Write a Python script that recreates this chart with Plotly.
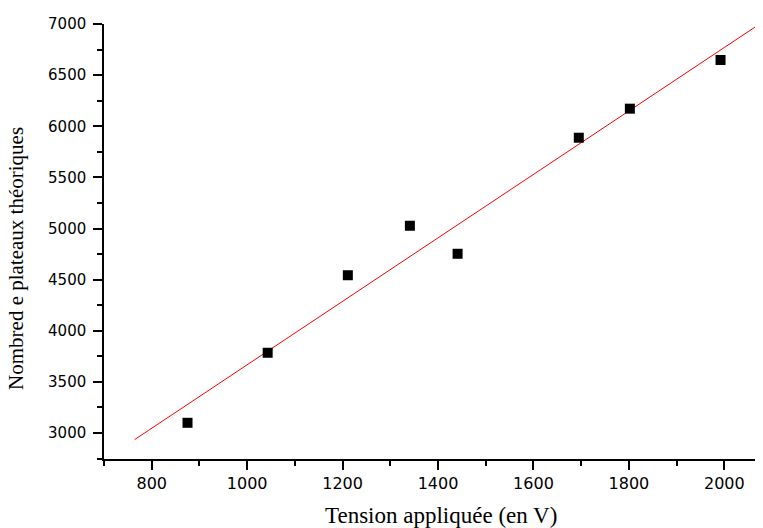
import plotly.graph_objects as go

# Measured points
tension = [875, 1043, 1211, 1341, 1441, 1695, 1802, 1992]
plateaux = [3100, 3785, 4543, 5027, 4753, 5888, 6172, 6648]

# Linear fit line (end points)
fit_x = [764, 2074]
fit_y = [2935, 7000]

fig = go.Figure()

fig.add_trace(go.Scatter(
    x=fit_x,
    y=fit_y,
    mode='lines',
    line=dict(color='#ff0000', width=1),
    showlegend=False
))

fig.add_trace(go.Scatter(
    x=tension,
    y=plateaux,
    mode='markers',
    marker=dict(symbol='square', size=10, color='black'),
    showlegend=False
))

# page has an 8px body margin, so the figure is shrunk by that much
fig.update_layout(
    width=755,
    height=520,
    plot_bgcolor='white',
    paper_bgcolor='white',
    margin=dict(l=96, r=0, t=16, b=69),
    font=dict(family='DejaVu Sans, Verdana', size=15, color='black'),
)

fig.update_xaxes(
    range=[700, 2081],
    tickvals=[800, 1000, 1200, 1400, 1600, 1800, 2000],
    ticks='outside', ticklen=9, tickwidth=1.5, tickcolor='black',
    minor=dict(dtick=100, tick0=0, ticks='outside', ticklen=5, tickwidth=1.5, tickcolor='black'),
    showline=True, linecolor='black', linewidth=1.5,
    showgrid=False, zeroline=False, automargin=False,
    tickfont=dict(size=16),
)

fig.update_yaxes(
    range=[2746, 7000],
    tickvals=[3000, 3500, 4000, 4500, 5000, 5500, 6000, 6500, 7000],
    ticks='outside', ticklen=9, tickwidth=1.5, tickcolor='black',
    minor=dict(dtick=250, tick0=0, ticks='outside', ticklen=5, tickwidth=1.5, tickcolor='black'),
    showline=True, linecolor='black', linewidth=1.5,
    showgrid=False, zeroline=False, automargin=False,
    ticklabelstandoff=4,
)

# Axis titles
fig.add_annotation(
    text='Tension appliquée (en V)',
    xref='paper', yref='paper', x=0.511, y=-0.129,
    xanchor='center', yanchor='middle', showarrow=False,
    font=dict(family='Liberation Serif, Times New Roman', size=23),
)
fig.add_annotation(
    text='Nombred e plateaux théoriques',
    xref='paper', yref='paper', x=-0.1335, y=0.46,
    xanchor='center', yanchor='middle', showarrow=False, textangle=-90,
    font=dict(family='Liberation Serif, Times New Roman', size=21),
)

fig.write_html("out.html")
